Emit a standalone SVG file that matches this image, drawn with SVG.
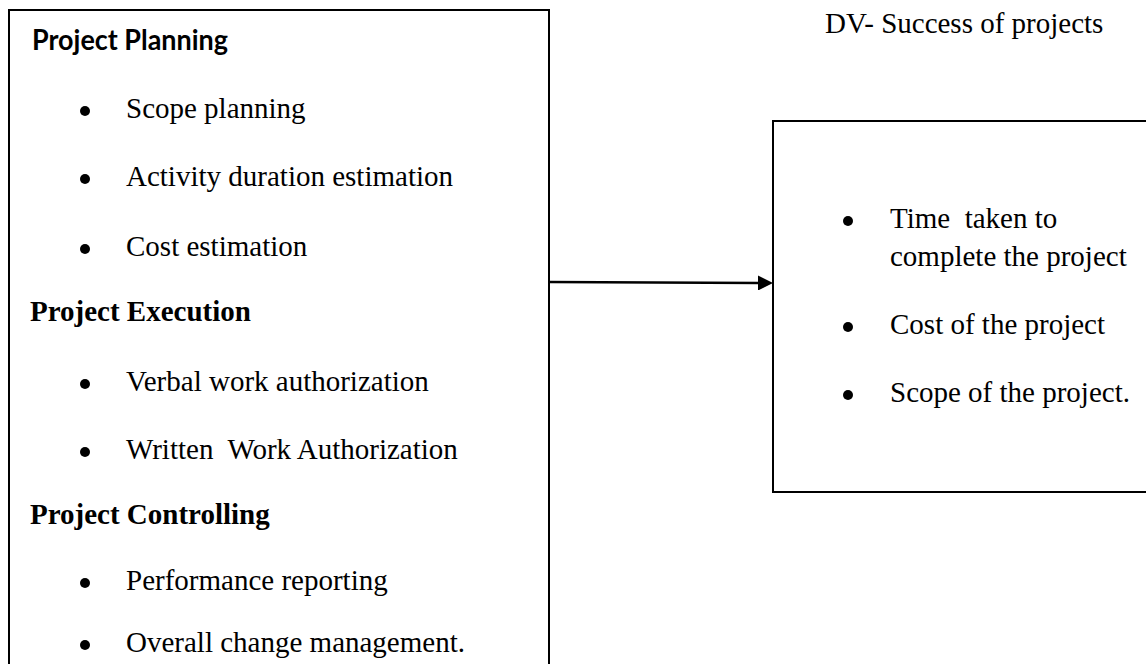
<svg xmlns="http://www.w3.org/2000/svg" width="1146" height="664" viewBox="0 0 1146 664">
<style>
.box{fill:#fff;stroke:#000;stroke-width:2}
.t{font-family:"Liberation Serif","Times New Roman",serif;font-size:29px;fill:#000}
.hb{font-family:"Liberation Serif","Times New Roman",serif;font-size:29px;font-weight:bold;fill:#000}
.hs{font-family:Lato,"Liberation Sans",sans-serif;font-size:29px;font-weight:bold;fill:#000}
.dot{fill:#000}
.conn{stroke:#000;stroke-width:2.4;fill:none}
</style>
<defs>
<marker id="ah" markerWidth="15" markerHeight="15" refX="2" refY="7.5" orient="auto" markerUnits="userSpaceOnUse" viewBox="0 0 15 15">
<path d="M0,0 L15,7.5 L0,15 z" fill="#000"/>
</marker>
</defs>
<rect width="1146" height="664" fill="#fff"/>
<g id="iv">
<rect class="box" x="9" y="10" width="540" height="670"/>
<text class="hs" x="32" y="50" textLength="196" lengthAdjust="spacingAndGlyphs">Project Planning</text>
<circle class="dot" cx="85" cy="111" r="5"/><text class="t" x="126" y="118">Scope planning</text>
<circle class="dot" cx="85" cy="179" r="5"/><text class="t" x="126" y="186">Activity duration estimation</text>
<circle class="dot" cx="85" cy="249" r="5"/><text class="t" x="126" y="256">Cost estimation</text>
<text class="hb" x="30" y="321">Project Execution</text>
<circle class="dot" cx="85" cy="384" r="5"/><text class="t" x="126" y="391">Verbal work authorization</text>
<circle class="dot" cx="85" cy="452" r="5"/><text class="t" x="126" y="459" xml:space="preserve">Written  Work Authorization</text>
<text class="hb" x="30" y="524">Project Controlling</text>
<circle class="dot" cx="85" cy="583" r="5"/><text class="t" x="126" y="590">Performance reporting</text>
<circle class="dot" cx="85" cy="645" r="5"/><text class="t" x="126" y="652">Overall change management.</text>
</g>
<g id="dv-label">
<text class="t" x="825" y="33">DV- Success of projects</text>
</g>
<g id="dv">
<rect class="box" x="773" y="121" width="390" height="371"/>
<circle class="dot" cx="848" cy="221" r="5"/><text class="t" x="890" y="228" xml:space="preserve">Time  taken to</text>
<text class="t" x="890" y="266">complete the project</text>
<circle class="dot" cx="848" cy="327" r="5"/><text class="t" x="890" y="334">Cost of the project</text>
<circle class="dot" cx="848" cy="395" r="5"/><text class="t" x="890" y="402">Scope of the project.</text>
</g>
<g id="connectors">
<line class="conn" x1="549" y1="282" x2="760" y2="283" marker-end="url(#ah)"/>
</g>
</svg>
